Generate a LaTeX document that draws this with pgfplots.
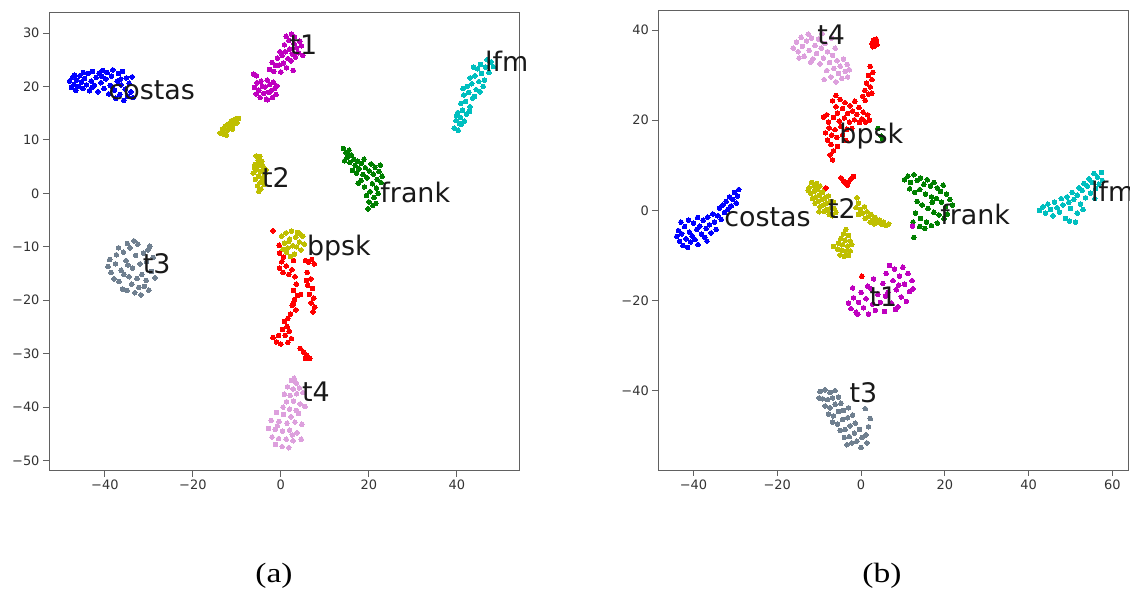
\documentclass[border=0pt]{standalone}
\usepackage{fontspec}
\setmainfont{DejaVu Sans}
\newfontfamily\capfont{Liberation Serif}
\usepackage{graphicx}
\usepackage{pgfplots}
\pgfplotsset{compat=1.18}
\definecolor{cB}{rgb}{0,0,1}
\definecolor{cM}{rgb}{0.75,0,0.75}
\definecolor{cC}{rgb}{0,0.75,0.75}
\definecolor{cG}{rgb}{0,0.5,0}
\definecolor{cY}{rgb}{0.75,0.75,0}
\definecolor{cR}{rgb}{1,0,0}
\definecolor{cS}{RGB}{112,128,144}
\definecolor{cP}{RGB}{221,160,221}
\pgfplotsset{
  tsne/.style={scale only axis, clip=false,
    axis line style={black!62, line width=0.9bp},
    tick style={black!62, line width=0.9bp},
    tick align=outside, major tick length=6bp, tick pos=left,
    tick label style={font=\fontsize{13}{13}\selectfont, text=black!80}},
  pts/.style={only marks, mark=*, color=#1, mark size=2.3bp, mark options={solid, fill=#1, draw=#1, line width=0pt}}
}
\tikzset{lab/.style={anchor=base west, inner sep=0pt, font=\fontsize{27}{27}\selectfont, text=black!90}}
\begin{document}
\begin{tikzpicture}
\path[use as bounding box] (0,0) rectangle (1130bp,596bp);
% ---------------- panel (a)
\begin{axis}[tsne, at={(49bp,125.3bp)}, anchor=south west, width=470.3bp, height=458bp,
  xmin=-52.7, xmax=54.2, ymin=-51.9, ymax=33.8,
  xtick={-40,-20,0,20,40}, xticklabels={−40,−20,0,20,40},
  ytick={-50,-40,-30,-20,-10,0,10,20,30}, yticklabels={−50,−40,−30,−20,−10,0,10,20,30}]
% costas
\addplot[pts=cB] coordinates {(-48.0,21.0) (-47.6,19.8) (-47.3,21.8) (-47.0,20.4) (-46.6,19.3) (-46.4,21.2) (-46.0,20.0) (-45.7,22.0) (-45.3,20.8) (-45.0,19.6) (-44.6,21.5) (-44.2,20.3) (-43.8,22.4) (-43.5,19.2) (-43.1,21.0) (-42.8,22.8) (-42.4,20.2) (-42.0,21.7) (-41.6,19.0) (-41.3,22.5) (-40.9,20.7) (-40.5,23.0) (-40.2,19.6) (-39.8,21.4) (-39.5,22.6) (-39.1,18.6) (-38.8,20.2) (-38.5,21.9) (-38.2,23.1) (-37.8,19.3) (-37.5,17.8) (-37.2,21.0) (-36.9,22.4) (-36.6,18.5) (-36.3,20.3) (-36.0,22.8) (-35.7,17.4) (-35.4,19.5) (-35.1,21.6) (-34.8,18.2) (-34.5,20.6) (-34.1,19.0) (-33.8,21.8) (-33.6,17.9) (-44.9,22.6) (-42.9,19.8) (-40.7,21.9) (-38.3,19.9) (-36.4,21.4) (-46.9,22.1)};
% t1
\addplot[pts=cM] coordinates {(-6.0,19.8) (-5.6,18.6) (-5.4,20.7) (-5.0,19.3) (-4.7,17.9) (-4.5,21.0) (-4.2,20.0) (-3.9,18.7) (-3.6,19.9) (-3.3,17.6) (-3.1,21.2) (-2.8,18.9) (-2.5,20.4) (-2.2,19.2) (-1.9,17.9) (-1.7,20.8) (-1.4,19.6) (-1.1,18.5) (-0.9,20.1) (-3.0,17.5) (-6.2,22.3) (-5.5,22.0)
 (-2.6,23.2) (-2.0,24.5) (-1.6,22.8) (-1.2,23.9) (-0.8,25.3) (-0.4,24.0) (0.0,22.7) (0.3,25.8) (0.6,24.4) (1.0,26.5) (1.3,23.5) (1.6,25.2) (2.0,27.0) (2.3,24.8) (2.6,26.1) (3.0,28.0) (3.3,25.5) (3.6,27.2) (4.0,26.3) (4.3,28.5) (4.7,27.6) (1.2,29.4) (1.8,28.6) (2.4,29.8) (3.1,29.3) (0.8,27.8) (-0.2,26.5) (5.0,25.8) (2.8,23.0)};
% lfm
\addplot[pts=cC] coordinates {(39.4,12.2) (40.3,11.8) (41.0,12.9) (39.8,13.6) (40.8,14.2) (41.7,13.5) (40.2,15.1) (41.3,15.6) (42.2,14.8) (40.9,16.8) (42.0,17.2) (43.0,16.2) (41.6,18.4) (42.7,18.9) (43.6,17.8) (42.3,20.0) (43.4,20.5) (44.4,19.4) (43.0,21.6) (44.1,22.0) (45.0,20.9) (44.7,23.3) (45.6,22.4) (46.3,21.2) (45.4,24.1) (46.5,23.6) (47.3,22.6) (47.8,24.6) (46.9,25.0) (48.3,23.7) (39.9,14.5) (42.9,15.3) (44.0,18.1) (41.4,19.6) (45.3,19.0) (43.8,23.6) (46.0,20.0) (40.6,13.1)};
% frank
\addplot[pts=cG] coordinates {(14.2,8.4) (14.8,7.6) (15.5,8.1) (15.1,6.7) (16.0,7.2) (15.7,5.8) (16.6,6.4) (14.5,6.1) (16.9,5.2) (17.4,6.0) (17.8,4.6) (18.3,5.6) (17.2,3.8) (18.7,3.5) (19.2,4.8) (19.6,2.9) (20.1,4.2) (20.5,5.5) (21.0,3.6) (21.4,4.9) (21.9,2.6) (22.3,4.1) (22.6,5.3) (20.8,1.8) (19.0,1.2) (18.2,2.4) (21.7,1.0) (22.8,2.0) (20.3,0.3) (19.5,-0.4) (21.2,-0.8) (20.0,-1.6) (20.9,-2.3) (19.8,-2.9) (21.6,-1.9) (22.1,0.0) (17.6,1.9) (23.0,3.2) (16.3,4.3) (18.9,6.4)};
% yellow (t2 colour)
\addplot[pts=cY] coordinates {(-13.8,11.3) (-13.3,12.0) (-12.9,11.0) (-12.6,12.6) (-12.2,11.7) (-11.9,13.0) (-11.5,12.2) (-11.2,13.6) (-10.8,12.9) (-10.4,13.9) (-10.0,13.2) (-9.6,14.0) (-12.4,10.9) (-11.0,12.0)
 (-5.6,7.0) (-4.8,6.9) (-5.2,6.2) (-4.3,6.0) (-5.9,5.4) (-4.9,5.2) (-4.0,5.0) (-5.5,4.4) (-4.5,4.1) (-6.3,3.8) (-3.6,3.6) (-5.1,3.2) (-4.2,2.9) (-5.8,2.6) (-4.7,2.0) (-3.8,1.7) (-5.3,1.4) (-4.5,0.8) (-5.0,0.4) (-6.0,4.7) (-3.4,4.4) (-4.0,2.3)
 (0.2,-8.0) (0.8,-9.3) (1.2,-7.4) (1.6,-10.2) (2.0,-8.6) (2.4,-7.1) (2.7,-9.8) (3.1,-11.4) (3.4,-8.2) (3.8,-7.3) (4.2,-9.1) (4.6,-10.6) (5.0,-8.0) (5.3,-9.5) (1.3,-11.0) (2.2,-11.8) (0.5,-10.5) (3.6,-10.0) (4.4,-7.6) (1.8,-9.0)};
% bpsk
\addplot[pts=cR] coordinates {(-1.8,-7.0) (-0.4,-9.7) (-0.3,-11.2) (0.6,-11.9)
 (-0.3,-14.0) (0.5,-14.8) (1.2,-13.6) (1.8,-15.2) (2.5,-14.3) (3.2,-15.6) (0.2,-12.8) (2.9,-12.6)
 (5.6,-12.6) (6.3,-12.9) (7.0,-12.4) (7.6,-13.2) (6.0,-14.8) (6.8,-16.0) (6.1,-17.2) (7.2,-17.8) (6.5,-18.9) (7.5,-19.6) (6.9,-20.5) (7.7,-21.3) (7.3,-22.2) (5.8,-16.3)
 (3.5,-17.0) (2.9,-18.2) (3.8,-19.1) (3.1,-19.9) (2.6,-21.0) (3.4,-21.8) (2.2,-22.6) (1.6,-23.4) (0.8,-24.0) (1.4,-24.9) (0.4,-25.5) (1.9,-25.8) (1.0,-26.6) (2.4,-27.2) (2.9,-20.6) (4.5,-18.9)
 (-1.8,-27.0) (-1.0,-27.8) (0.0,-28.2) (-0.5,-26.6) (1.6,-27.9)
 (4.4,-29.0) (5.2,-29.7) (5.9,-30.3) (6.6,-30.9) (5.6,-30.9)};
% t3
\addplot[pts=cS] coordinates {(-33.7,-14.0) (-32.0,-13.2) (-35.2,-12.6) (-34.5,-15.6) (-31.6,-15.2) (-33.0,-11.6) (-36.3,-14.4) (-33.9,-17.0) (-30.5,-12.8) (-35.8,-11.0) (-37.6,-13.2) (-31.0,-17.4) (-32.5,-9.5) (-34.3,-10.2) (-29.4,-14.6) (-36.8,-16.5) (-33.2,-18.6) (-38.6,-14.8) (-30.2,-10.6) (-35.0,-18.2) (-29.0,-12.0) (-37.4,-11.5) (-31.8,-19.0) (-38.9,-12.4) (-32.7,-15.9) (-34.8,-13.4) (-31.2,-11.2) (-36.0,-17.9) (-28.6,-15.8) (-30.6,-16.3) (-37.9,-16.0) (-33.4,-8.9) (-34.9,-9.4) (-35.7,-15.2) (-32.3,-17.6) (-30.0,-18.1) (-36.9,-10.2) (-39.3,-13.7) (-29.8,-9.9)};
% t4
\addplot[pts=cP] coordinates {(2.4,-35.0) (3.5,-35.5) (1.5,-36.2) (2.8,-36.6) (4.2,-36.4) (0.8,-37.6) (2.1,-37.8) (3.6,-37.5) (5.0,-37.3) (1.3,-39.0) (2.9,-38.9) (4.4,-39.4) (0.5,-40.0) (2.0,-40.4) (3.5,-40.6) (5.5,-39.9) (3.0,-34.6)
 (-1.0,-41.0) (0.6,-41.4) (2.3,-41.8) (4.0,-41.2) (-2.2,-42.5) (-0.4,-42.7) (1.4,-43.0) (3.2,-42.8) (4.8,-43.2) (-2.8,-44.0) (-1.3,-44.2) (0.4,-44.5) (2.0,-44.3) (3.7,-44.8) (-2.0,-45.6) (-0.5,-45.9) (1.2,-46.0) (2.8,-46.3) (-1.2,-47.0) (0.3,-47.4) (1.8,-47.6) (4.6,-46.0) (-0.8,-43.5) (2.6,-45.2)};
\coordinate (a1) at (axis cs:-39.2,17.6);
\coordinate (a2) at (axis cs:1.95,25.9);
\coordinate (a3) at (axis cs:46.4,22.8);
\coordinate (a4) at (axis cs:-4.3,1.05);
\coordinate (a5) at (axis cs:22.6,-1.76);
\coordinate (a6) at (axis cs:5.9,-11.55);
\coordinate (a7) at (axis cs:-31.4,-15.0);
\coordinate (a8) at (axis cs:4.8,-39.0);
\end{axis}
\node[lab] at (a1) {costas};
\node[lab] at (a2) {t1};
\node[lab] at (a3) {lfm};
\node[lab] at (a4) {t2};
\node[lab] at (a5) {frank};
\node[lab] at (a6) {bpsk};
\node[lab] at (a7) {t3};
\node[lab] at (a8) {t4};
% ---------------- panel (b)
\begin{axis}[tsne, at={(658.3bp,126bp)}, anchor=south west, width=470bp, height=459.3bp,
  xmin=-48.4, xmax=63.8, ymin=-57.6, ymax=44.3,
  xtick={-40,-20,0,20,40,60}, xticklabels={−40,−20,0,20,40,60},
  ytick={-40,-20,0,20,40}, yticklabels={−40,−20,0,20,40}]
% costas
\addplot[pts=cB] coordinates {(-44.0,-5.8) (-43.6,-4.5) (-43.3,-6.9) (-42.8,-5.2) (-42.5,-7.8) (-42.1,-3.6) (-41.8,-6.3) (-41.4,-8.2) (-41.0,-4.8) (-40.7,-7.0) (-40.3,-5.7) (-40.0,-2.8) (-39.6,-6.5) (-39.2,-4.2) (-38.9,-7.6) (-38.5,-3.5) (-38.1,-5.3) (-37.7,-2.2) (-37.3,-6.0) (-37.0,-4.0) (-36.6,-1.5) (-36.2,-3.2) (-35.8,-5.0) (-35.4,-0.8) (-35.0,-2.6) (-34.6,-4.2) (-34.2,-1.2) (-33.8,0.5) (-33.4,-2.0) (-33.0,1.2) (-32.6,-0.5) (-32.2,2.0) (-31.8,0.2) (-31.4,3.0) (-31.0,1.0) (-30.6,2.4) (-30.2,4.0) (-29.8,1.6) (-29.5,3.2) (-29.2,4.6) (-43.0,-2.6) (-41.2,-2.2) (-39.0,-1.6) (-36.8,-6.8)};
% t4
\addplot[pts=cP] coordinates {(-16.2,36.0) (-15.4,37.3) (-15.0,35.2) (-14.3,38.4) (-14.0,36.4) (-13.6,34.2) (-13.0,37.6) (-12.6,39.1) (-12.4,35.5) (-11.8,38.2) (-11.5,33.6) (-11.0,36.6) (-10.6,34.8) (-10.2,38.0) (-9.8,32.5) (-9.5,36.0) (-9.0,33.8) (-8.6,37.0) (-8.2,31.0) (-8.0,35.2) (-7.5,32.8) (-7.2,29.6) (-6.8,34.4) (-6.5,31.5) (-6.0,28.5) (-5.7,33.2) (-5.4,30.4) (-5.0,32.0) (-4.6,29.3) (-4.2,33.6) (-3.8,30.8) (-3.3,32.4) (-2.8,31.2) (-8.8,29.0) (-12.0,32.9) (-14.8,33.8) (-7.0,38.2) (-6.2,36.0) (-9.3,39.2) (-3.2,29.6)};
% yellow t2
\addplot[pts=cY] coordinates {(-12.4,5.0) (-11.8,6.2) (-11.2,5.4) (-10.6,6.0) (-12.0,3.8) (-11.2,4.2) (-10.4,4.6) (-9.8,5.4) (-11.6,2.6) (-10.8,3.0) (-10.0,3.4) (-9.2,4.0) (-8.6,4.8) (-11.0,1.6) (-10.2,2.0) (-9.4,2.4) (-8.6,2.8) (-7.8,3.2) (-9.8,0.8) (-9.0,1.2) (-8.2,1.6) (-7.4,2.0) (-6.6,1.8) (-8.8,-0.2) (-8.0,0.2) (-7.2,0.6) (-6.4,0.4) (-7.6,-0.9) (-6.8,-1.2) (-6.0,-0.4) (-12.6,4.4) (-10.0,-0.3)
 (-1.0,2.8) (-0.6,1.6) (-1.2,0.6) (-0.2,0.2) (0.4,-0.6) (-0.6,-0.9) (0.8,0.8) (1.4,-0.3) (1.8,-1.4) (2.4,-0.9) (1.0,-1.8) (2.8,-2.2) (3.4,-1.6) (3.8,-2.7) (4.4,-2.2) (4.9,-3.1) (5.4,-2.6) (6.0,-3.4) (6.6,-3.0) (2.2,-2.6) (3.2,-3.0)
 (-3.6,-4.2) (-4.2,-5.2) (-3.0,-5.6) (-4.8,-6.2) (-3.8,-6.6) (-2.6,-6.8) (-5.4,-7.3) (-4.4,-7.6) (-3.2,-7.9) (-2.2,-7.6) (-5.6,-8.6) (-4.6,-8.8) (-3.6,-9.1) (-2.6,-9.0) (-5.0,-9.9) (-4.0,-10.2) (-6.6,-8.0) (-3.0,-10.0)};
% bpsk
\addplot[pts=cR] coordinates {(2.6,37.0) (3.0,37.8) (3.5,37.4) (3.8,36.8) (3.2,36.4) (2.8,36.3) (3.6,38.0)
 (2.2,31.9) (2.8,30.6) (1.8,29.9) (2.6,29.0) (1.3,28.2) (2.2,27.4) (0.9,26.6) (1.8,25.8) (0.4,25.3) (2.6,26.0) (1.0,24.4)
 (0.5,21.8) (1.6,21.2) (0.2,20.3) (1.1,19.6) (2.0,20.0)
 (-9.0,20.7) (-8.2,21.2) (-7.8,19.6) (-6.8,24.3) (-6.0,23.0) (-5.6,21.6) (-5.0,24.6) (-4.4,22.6) (-3.8,23.9) (-3.2,21.5) (-2.6,23.2) (-2.0,22.0) (-1.5,24.2) (-1.0,21.3) (-0.5,22.8) (-6.6,20.6) (-5.2,19.8) (-4.0,20.5) (-2.8,19.6) (-1.6,20.1) (-0.4,19.5) (-7.6,18.3) (-6.2,17.9) (-4.8,18.6) (-3.4,18.0) (-2.2,18.2) (-7.0,16.7) (-5.8,16.2) (-4.4,16.8) (-8.0,15.6) (-7.2,14.6) (-6.6,13.2) (-7.4,12.3) (-6.8,11.2) (-5.6,14.2) (-3.6,15.5) (-8.5,17.2) (-6.0,25.5)
 (-4.8,7.2) (-4.2,6.5) (-3.6,5.9) (-3.0,6.3) (-2.4,7.0) (-1.8,7.5) (-3.2,5.6)
 (-8.4,5.0) (0.2,-14.6)};
% frank
\addplot[pts=cG] coordinates {(10.4,6.8) (11.2,7.6) (11.8,6.2) (12.6,7.9) (13.4,6.6) (14.2,7.2) (15.0,5.8) (15.8,6.8) (16.6,5.4) (17.4,6.2) (18.2,5.0) (19.0,4.2) (19.6,5.6) (20.4,3.6) (11.6,4.8) (12.8,4.0) (14.0,4.6) (15.4,3.6) (16.8,3.0) (18.0,2.6) (19.2,1.8) (20.2,0.8) (21.2,2.4) (13.4,2.0) (14.6,1.2) (16.0,0.4) (17.4,-0.4) (18.6,-1.0) (19.8,-1.8) (13.0,-0.6) (14.2,-1.8) (15.6,-2.6) (16.8,-3.4) (18.2,-2.8) (12.4,-2.6) (14.0,-3.6) (15.2,-4.0) (12.6,-6.0) (21.8,1.2) (17.0,1.8) (20.6,-0.8)
 (4.0,18.2) (4.8,16.5) (5.2,15.8)};
% lfm
\addplot[pts=cC] coordinates {(42.6,0.0) (43.4,0.8) (44.0,-0.6) (44.6,1.4) (45.2,0.2) (45.8,-1.2) (46.2,1.8) (46.8,0.6) (47.4,-0.4) (47.8,2.6) (48.2,1.2) (48.8,-1.8) (49.2,3.0) (49.6,1.8) (50.0,0.4) (50.4,4.0) (50.8,2.4) (51.2,-2.6) (51.6,3.4) (52.0,5.0) (52.4,1.4) (52.8,4.4) (53.2,6.0) (53.6,2.8) (54.0,5.4) (54.4,7.0) (54.8,3.8) (55.2,6.2) (55.6,8.2) (56.0,4.8) (56.4,7.4) (56.8,5.8) (57.4,8.4) (57.6,6.6) (53.0,0.2) (55.8,2.6) (51.6,-0.6) (49.8,-2.4)};
% t1
\addplot[pts=cM] coordinates {(-3.0,-20.6) (-2.4,-21.8) (-1.8,-19.4) (-1.2,-22.6) (-0.6,-20.4) (0.0,-18.2) (0.6,-21.6) (1.2,-19.6) (1.8,-23.0) (2.4,-17.4) (2.8,-20.8) (3.4,-22.2) (4.0,-18.6) (4.6,-20.4) (5.2,-16.2) (5.6,-22.4) (6.0,-14.0) (6.4,-18.2) (6.8,-12.2) (7.2,-20.6) (7.6,-15.6) (8.0,-13.0) (8.4,-17.6) (8.8,-21.4) (9.2,-14.6) (9.6,-19.2) (10.0,-12.6) (10.4,-16.4) (10.8,-20.2) (11.2,-14.0) (11.6,-18.0) (12.2,-15.6) (12.4,-17.4) (-0.8,-23.0) (3.0,-15.2) (5.8,-19.0) (8.2,-22.0) (9.0,-16.6) (1.6,-16.8) (-2.0,-17.2) (12.3,-3.5)};
% t3
\addplot[pts=cS] coordinates {(-9.8,-40.2) (-8.6,-39.8) (-7.4,-40.4) (-6.2,-40.0) (-9.2,-41.8) (-8.0,-42.0) (-6.8,-41.6) (-5.4,-41.4) (-8.6,-43.4) (-7.4,-43.8) (-6.2,-43.0) (-4.8,-42.8) (-7.8,-45.2) (-6.6,-45.6) (-5.4,-44.6) (-4.2,-44.4) (-3.0,-43.8) (-6.8,-47.0) (-5.6,-47.4) (-4.4,-46.4) (-3.2,-46.0) (-2.0,-45.4) (-5.0,-48.8) (-3.8,-48.6) (-2.6,-47.8) (-1.4,-47.2) (-4.0,-50.4) (-2.8,-50.2) (-1.6,-49.4) (-0.4,-48.6) (-2.2,-51.6) (-1.0,-51.2) (0.2,-50.4) (1.2,-49.8) (0.0,-52.6) (1.4,-51.6) (-3.4,-52.0) (1.8,-48.0) (-10.0,-41.6) (1.0,-44.0) (2.2,-46.2)};
\coordinate (b1) at (axis cs:-10.5,36.7);
\coordinate (b2) at (axis cs:-5.2,14.8);
\coordinate (b3) at (axis cs:-32.7,-3.5);
\coordinate (b4) at (axis cs:-7.9,-1.8);
\coordinate (b5) at (axis cs:18.9,-3.2);
\coordinate (b6) at (axis cs:54.9,2.0);
\coordinate (b7) at (axis cs:2.0,-21.4);
\coordinate (b8) at (axis cs:-2.8,-42.7);
\end{axis}
\node[lab] at (b1) {t4};
\node[lab] at (b2) {bpsk};
\node[lab] at (b3) {costas};
\node[lab] at (b4) {t2};
\node[lab] at (b5) {frank};
\node[lab] at (b6) {lfm};
\node[lab] at (b7) {t1};
\node[lab] at (b8) {t3};
\node[font=\capfont\fontsize{28}{28}\selectfont, inner sep=0pt] at (274bp,20bp) {\scalebox{1.2}[1]{(a)}};
\node[font=\capfont\fontsize{28}{28}\selectfont, inner sep=0pt] at (882bp,20bp) {\scalebox{1.2}[1]{(b)}};
\end{tikzpicture}
\end{document}
